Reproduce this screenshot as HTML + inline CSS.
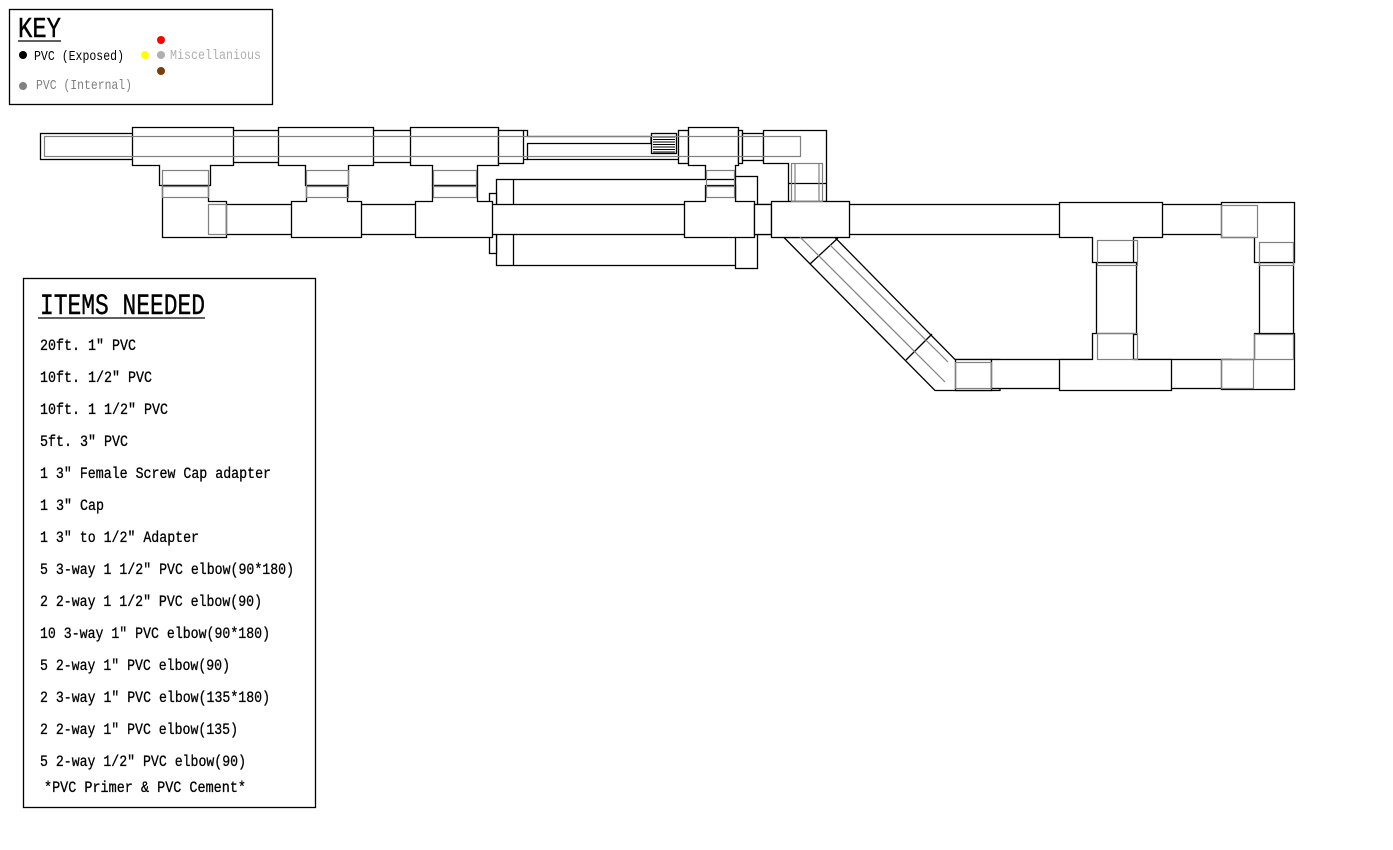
<!DOCTYPE html>
<html><head><meta charset="utf-8"><style>
html,body{margin:0;padding:0;background:#fff;}
svg{display:block;}
text{font-family:"Liberation Mono","Noto Sans CJK JP",monospace;}
</style></head><body>
<svg width="1393" height="850" viewBox="0 0 1393 850" xmlns="http://www.w3.org/2000/svg">
<rect width="1393" height="850" fill="#fff"/>
<g fill="#fff" stroke="#000" stroke-width="1.3">
<rect x="9.5" y="9.5" width="263" height="95"/>
<rect x="23.5" y="278.5" width="292" height="529"/>

<rect x="40.5" y="133.5" width="100" height="26"/>
<rect x="230" y="130.5" width="270" height="32"/>
<path d="M132.5 127.5H233.5V165.5H210.5V185.5H159.5V165.5H132.5Z"/>
<path d="M278.5 127.5H373.5V165.5H348.5V185.5H305.5V165.5H278.5Z"/>
<path d="M410.5 127.5H498.5V165.5H477.5V185.5H432.5V165.5H410.5Z"/>
<rect x="498.5" y="130.5" width="25" height="33"/>
<path d="M523.5 130.5H527.5V136.5H651V143.5H527.5V159.5H523.5" fill="none"/>
<line x1="527" y1="159.5" x2="680" y2="159.5"/>
<rect x="651.5" y="133.5" width="25" height="20"/>
<g stroke-width="1">
<line x1="653" y1="137" x2="675" y2="137"/><line x1="653" y1="139.5" x2="675" y2="139.5"/><line x1="653" y1="142" x2="675" y2="142"/><line x1="653" y1="144.5" x2="675" y2="144.5"/><line x1="653" y1="147" x2="675" y2="147"/><line x1="653" y1="149.5" x2="675" y2="149.5"/><line x1="653" y1="152" x2="675" y2="152"/>
</g>
<rect x="678.5" y="130.5" width="10" height="33"/>
<path d="M688.5 127.5H738.5V165.5H735.5V185.5H705.5V165.5H688.5Z"/>
<rect x="738.5" y="130.5" width="4" height="33"/>
<rect x="742.5" y="133.5" width="21" height="27"/>
<path d="M763.5 130.5H826.5V201.5H788.5V163.5H763.5Z"/>
<line x1="788.5" y1="183.5" x2="826.5" y2="183.5"/>

<rect x="496.5" y="179.5" width="250" height="86"/>
<line x1="513.5" y1="179.5" x2="513.5" y2="265.5"/>
<rect x="735.5" y="176.5" width="22" height="92"/>
<rect x="489.5" y="193.5" width="7" height="60"/>

<path d="M162.5 185.5H208.5V201.5H226.5V237.5H162.5Z"/>
<rect x="226.5" y="204.5" width="1010" height="30"/>
<path d="M291.5 201.5H306.5V185.5H347.5V201.5H361.5V237.5H291.5Z"/>
<path d="M415.5 201.5H432.5V185.5H477.5V201.5H492.5V237.5H415.5Z"/>
<path d="M684.5 201.5H705.5V185.5H735.5V201.5H754.5V237.5H684.5Z"/>
<rect x="754.5" y="204.5" width="17" height="30"/>
<path d="M784 237.5L935 390.5H1000V359.5H955L835 237.5Z"/>
<line x1="810" y1="264" x2="838" y2="238"/>
<line x1="906" y1="360" x2="932" y2="334"/>
<rect x="771.5" y="201.5" width="78" height="36"/>
<rect x="955.5" y="359.5" width="36" height="31"/>
<rect x="991.5" y="359.5" width="240" height="29"/>
<rect x="1096.5" y="262.5" width="40" height="72"/>
<rect x="1259.5" y="262.5" width="34" height="72"/>
<path d="M1059.5 202.5H1162.5V237.5H1133.5V262.5H1092.5V237.5H1059.5Z"/>
<path d="M1092.5 333.5H1133.5V359.5H1171.5V390.5H1059.5V359.5H1092.5Z"/>
<path d="M1221.5 202.5H1294.5V262.5H1254.5V237.5H1221.5Z"/>
<path d="M1221.5 359.5H1254.5V333.5H1294.5V389.5H1221.5Z"/>
</g>

<g fill="none" stroke="#808080" stroke-width="1.2">
<rect x="44.5" y="136.5" width="756" height="20"/>
<rect x="162.5" y="170.5" width="46" height="16"/><rect x="162.5" y="186.5" width="46" height="11"/>
<rect x="306.5" y="170.5" width="42" height="16"/><rect x="306.5" y="186.5" width="42" height="11"/>
<rect x="433.5" y="170.5" width="43" height="16"/><rect x="433.5" y="186.5" width="43" height="11"/>
<rect x="706.5" y="170.5" width="28" height="16"/><rect x="706.5" y="186.5" width="28" height="11"/>
<rect x="208.5" y="204.5" width="18" height="30"/>
<rect x="791.5" y="163.5" width="31" height="38"/>
<line x1="795" y1="163" x2="795" y2="201"/><line x1="819" y1="163" x2="819" y2="201"/>
<line x1="800" y1="237" x2="945" y2="382"/><line x1="830" y1="245" x2="948" y2="362"/>
<rect x="955.5" y="362.5" width="36" height="26"/>
<rect x="1097.5" y="240.5" width="40" height="25"/>
<rect x="1097.5" y="333.5" width="40" height="26"/>
<rect x="1221.5" y="205.5" width="36" height="32"/>
<rect x="1259.5" y="242.5" width="34" height="23"/>
<rect x="1254.5" y="334.5" width="39" height="25"/>
<rect x="1221.5" y="359.5" width="32" height="29"/>
</g>

<text x="18" y="37" font-size="29" textLength="43" lengthAdjust="spacingAndGlyphs" font-family="Liberation Sans Narrow, Liberation Sans, sans-serif" stroke="#000" stroke-width="0.4">KEY</text>
<line x1="18" y1="41" x2="61" y2="41" stroke="#000" stroke-width="1.3"/>
<circle cx="23" cy="55" r="4" fill="#000"/>
<text x="34" y="60" font-size="14" textLength="90" lengthAdjust="spacingAndGlyphs">PVC (Exposed)</text>
<circle cx="23" cy="86" r="4" fill="#808080"/>
<text x="36" y="89" font-size="14" fill="#808080" textLength="96" lengthAdjust="spacingAndGlyphs">PVC (Internal)</text>
<circle cx="145" cy="55" r="4" fill="#ffff00"/>
<circle cx="161" cy="40" r="4" fill="#ff0000"/>
<circle cx="161" cy="55" r="4" fill="#b0b0b0"/>
<circle cx="161" cy="71" r="4" fill="#7a3e0a"/>
<text x="170" y="59" font-size="14" fill="#b0b0b0" textLength="91" lengthAdjust="spacingAndGlyphs">Miscellanious</text>

<text x="40" y="314" font-size="30" textLength="165" lengthAdjust="spacingAndGlyphs" font-family="Liberation Sans Narrow, Liberation Sans, sans-serif" stroke="#000" stroke-width="0.4">ITEMS NEEDED</text>
<line x1="38" y1="318" x2="205" y2="318" stroke="#000" stroke-width="1.3"/>
<g font-size="16" stroke="#000" stroke-width="0.3">
<text x="40" y="350" textLength="96" lengthAdjust="spacingAndGlyphs">20ft. 1″ PVC</text>
<text x="40" y="382" textLength="112" lengthAdjust="spacingAndGlyphs">10ft. 1/2″ PVC</text>
<text x="40" y="414" textLength="128" lengthAdjust="spacingAndGlyphs">10ft. 1 1/2″ PVC</text>
<text x="40" y="446" textLength="88" lengthAdjust="spacingAndGlyphs">5ft. 3″ PVC</text>
<text x="40" y="478" textLength="231" lengthAdjust="spacingAndGlyphs">1 3″ Female Screw Cap adapter</text>
<text x="40" y="510" textLength="64" lengthAdjust="spacingAndGlyphs">1 3″ Cap</text>
<text x="40" y="542" textLength="159" lengthAdjust="spacingAndGlyphs">1 3″ to 1/2″ Adapter</text>
<text x="40" y="574" textLength="254" lengthAdjust="spacingAndGlyphs">5 3-way 1 1/2″ PVC elbow(90*180)</text>
<text x="40" y="606" textLength="222" lengthAdjust="spacingAndGlyphs">2 2-way 1 1/2″ PVC elbow(90)</text>
<text x="40" y="638" textLength="230" lengthAdjust="spacingAndGlyphs">10 3-way 1″ PVC elbow(90*180)</text>
<text x="40" y="670" textLength="190" lengthAdjust="spacingAndGlyphs">5 2-way 1″ PVC elbow(90)</text>
<text x="40" y="702" textLength="230" lengthAdjust="spacingAndGlyphs">2 3-way 1″ PVC elbow(135*180)</text>
<text x="40" y="734" textLength="198" lengthAdjust="spacingAndGlyphs">2 2-way 1″ PVC elbow(135)</text>
<text x="40" y="766" textLength="206" lengthAdjust="spacingAndGlyphs">5 2-way 1/2″ PVC elbow(90)</text>
<text x="44" y="792" textLength="202" lengthAdjust="spacingAndGlyphs">*PVC Primer &amp; PVC Cement*</text>
</g>
</svg>
</body></html>
